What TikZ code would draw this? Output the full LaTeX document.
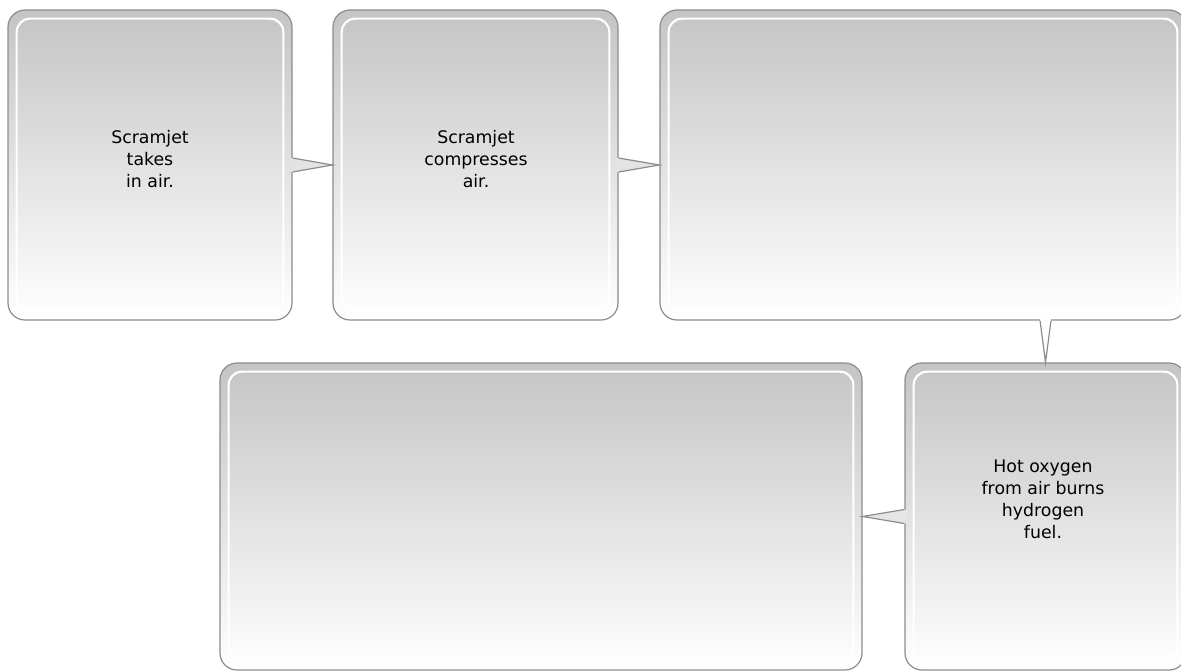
\documentclass[tikz,border=0pt]{standalone}
\usepackage{fontspec}
\setmainfont{DejaVu Sans}

\begin{document}
\begin{tikzpicture}[x=0.75pt,y=-0.75pt,
    box/.style={draw=black!45,line width=0.9pt,rounded corners=12.75pt,inner sep=0pt,
        top color=black!23,bottom color=white,
        path picture={\draw[white,line width=1.6pt,rounded corners=10pt]
            ([shift={(6.5pt,6.5pt)}]path picture bounding box.south west) rectangle
            ([shift={(-6.5pt,-6.5pt)}]path picture bounding box.north east);}},
    wedge/.style={draw=black!45,line width=0.9pt,line join=miter},
    txt/.style={align=center,font=\fontsize{13}{16.5}\selectfont}]
    \useasboundingbox (0,0) rectangle (1181,671);
    % top row
    \node[box,minimum width=213pt,minimum height=232.5pt] (b1) at (150,165) {};
    \node[box,minimum width=213.75pt,minimum height=232.5pt] (b2) at (475.5,165) {};
    \node[box,minimum width=394.5pt,minimum height=232.5pt] (b3) at (923,165) {};
    % bottom row
    \node[box,minimum width=481.5pt,minimum height=230.25pt] (b4) at (541,516.5) {};
    \node[box,minimum width=210.75pt,minimum height=230.25pt] (b5) at (1045.5,516.5) {};
    % pointers
    \fill[black!11] ([xshift=-2pt,yshift=5.25pt]b1.east) -- ([yshift=5.25pt]b1.east) -- (b2.west)
        -- ([yshift=-5.25pt]b1.east) -- ([xshift=-2pt,yshift=-5.25pt]b1.east) -- cycle;
    \draw[wedge] ([yshift=5.25pt]b1.east) -- (b2.west) -- ([yshift=-5.25pt]b1.east);
    \fill[black!11] ([xshift=-2pt,yshift=5.25pt]b2.east) -- ([yshift=5.25pt]b2.east) -- (b3.west)
        -- ([yshift=-5.25pt]b2.east) -- ([xshift=-2pt,yshift=-5.25pt]b2.east) -- cycle;
    \draw[wedge] ([yshift=5.25pt]b2.east) -- (b3.west) -- ([yshift=-5.25pt]b2.east);
    \coordinate (c3) at (b5.north |- b3.south);
    \fill[white] ([xshift=-4.1pt,yshift=2pt]c3) -- ([xshift=-4.1pt]c3) -- (b5.north)
        -- ([xshift=4.1pt]c3) -- ([xshift=4.1pt,yshift=2pt]c3) -- cycle;
    \draw[wedge] ([xshift=-4.1pt]c3) -- (b5.north) -- ([xshift=4.1pt]c3);
    \fill[black!10] ([xshift=2pt,yshift=5.25pt]b5.west) -- ([yshift=5.25pt]b5.west) -- (b4.east)
        -- ([yshift=-5.25pt]b5.west) -- ([xshift=2pt,yshift=-5.25pt]b5.west) -- cycle;
    \draw[wedge] ([yshift=5.25pt]b5.west) -- (b4.east) -- ([yshift=-5.25pt]b5.west);
    % texts
    \node[txt] (t1) at (150,159) {Scramjet\\takes\\in air.};
    \node[txt] (t2) at (476,159) {Scramjet\\compresses\\air.};
    \node[txt] (t5) at (1043,499) {Hot oxygen\\from air burns\\hydrogen\\fuel.};
\end{tikzpicture}
\end{document}
